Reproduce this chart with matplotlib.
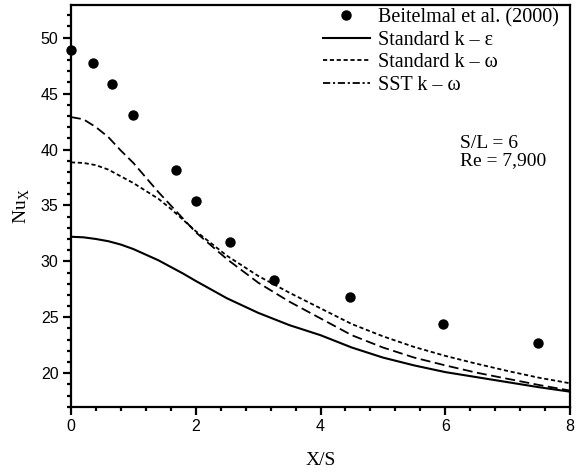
import numpy as np
import matplotlib
matplotlib.use('Agg')
import matplotlib.pyplot as plt
from matplotlib.lines import Line2D
from matplotlib.ticker import MultipleLocator

# experimental points, Beitelmal et al. (2000)
exp_x = [0.0, 0.36, 0.65, 0.99, 1.69, 2.01, 2.55, 3.25, 4.48, 5.97, 7.49]
exp_nu = [48.9, 47.7, 45.9, 43.1, 38.2, 35.4, 31.7, 28.3, 26.8, 24.4, 22.7]

# CFD curves
xs = [0.0, 0.2, 0.4, 0.6, 0.8, 1.0, 1.2, 1.4, 1.6, 1.8, 2.0, 2.5, 3.0, 3.5, 4.0,
      4.5, 5.0, 5.5, 6.0, 6.5, 7.0, 7.5, 8.0]
nu_ke = [32.2, 32.15, 32.0, 31.8, 31.5, 31.1, 30.6, 30.1, 29.5, 28.9, 28.25, 26.7,
         25.4, 24.3, 23.4, 22.3, 21.4, 20.7, 20.1, 19.65, 19.2, 18.75, 18.35]
nu_kw = [38.85, 38.8, 38.6, 38.2, 37.6, 37.0, 36.3, 35.6, 34.7, 33.7, 32.7, 30.5,
         28.7, 27.2, 25.8, 24.4, 23.3, 22.35, 21.55, 20.85, 20.2, 19.6, 19.1]
nu_sst = [42.9, 42.7, 42.0, 41.1, 39.9, 38.8, 37.5, 36.2, 35.0, 33.8, 32.6, 30.2,
          28.1, 26.4, 24.9, 23.4, 22.3, 21.4, 20.7, 20.05, 19.5, 18.95, 18.45]

fig = plt.figure(figsize=(5.77, 4.73), dpi=100)
ax = fig.add_axes([0.123, 0.140, 0.865, 0.849])

ax.scatter(exp_x, exp_nu, s=42, color='black', zorder=3, clip_on=False)
ax.plot(xs, nu_ke, color='black', lw=1.5)
ax.plot(xs, nu_kw, color='black', lw=1.3, dashes=(2.3, 1.5))
ax.plot(xs, nu_sst, color='black', lw=1.3, dashes=(5.5, 2.5))

ax.set_xlim(0, 8)
ax.set_ylim(17, 52.9)
ax.xaxis.set_major_locator(MultipleLocator(2))
ax.xaxis.set_minor_locator(MultipleLocator(0.4))
ax.yaxis.set_major_locator(MultipleLocator(5))
ax.yaxis.set_minor_locator(MultipleLocator(1))
ax.set_yticks([20, 25, 30, 35, 40, 45, 50])

for s in ax.spines.values():
    s.set_linewidth(1.6)
ax.tick_params(which='major', length=5.5, width=1.6, labelsize=11.5, direction='out')
ax.tick_params(which='minor', length=2.8, width=1.6, direction='out')
for lab in ax.get_xticklabels() + ax.get_yticklabels():
    lab.set_fontfamily('Liberation Sans')

serif = 'Liberation Serif'
ax.set_xlabel('X/S', fontsize=14, family=serif, labelpad=13)
ax.set_ylabel('Nu$_\\mathregular{X}$', fontsize=14, family=serif, labelpad=6)

handles = [
    Line2D([], [], ls='none', marker='o', ms=6.5, color='black'),
    Line2D([], [], color='black', lw=1.5),
    Line2D([], [], color='black', lw=1.3, dashes=(2.3, 1.5)),
    Line2D([], [], color='black', lw=1.3, dashes=(4, 1.5, 1.2, 1.5)),
]
labels = ['Beitelmal et al. (2000)', 'Standard k \u2013 \u03b5',
          'Standard k \u2013 \u03c9', 'SST k \u2013 \u03c9']
ax.legend(handles, labels, loc='upper right', bbox_to_anchor=(0.99, 1.008),
          frameon=False, handlelength=2.35, handletextpad=0.4, labelspacing=0.17,
          borderaxespad=0, borderpad=0.3, prop={'family': serif, 'size': 14.5})

ax.text(6.23, 40.55, 'S/L = 6', family=serif, fontsize=14, va='center')
ax.text(6.23, 39.0, 'Re = 7,900', family=serif, fontsize=14, va='center')

fig.savefig('out.png', dpi=100)
